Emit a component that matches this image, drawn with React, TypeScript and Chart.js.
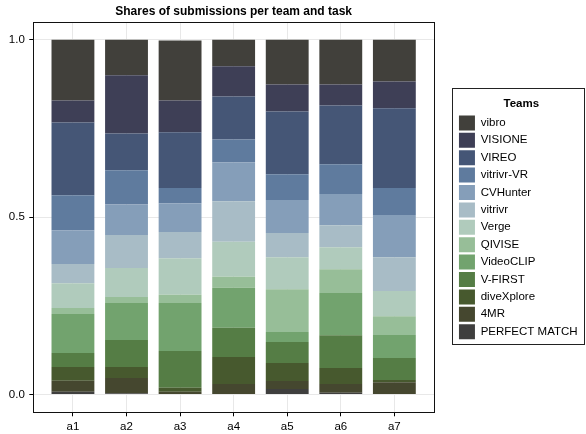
import React, { useEffect, useRef } from 'react';
import { Chart, registerables } from 'chart.js';

Chart.register(...registerables);

// Tasks on the x axis
const tasks = ['a1', 'a2', 'a3', 'a4', 'a5', 'a6', 'a7'];

// Y tick values
const yTicks = [0, 0.5, 1.0];

// Team shares per task (stacked bottom -> top)
const perfectMatch = [0.008, 0.004, 0.0, 0.0, 0.016, 0.005, 0.0];
const fourMR = [0.031, 0.043, 0.008, 0.030, 0.022, 0.025, 0.035];
const diveXplore = [0.039, 0.031, 0.011, 0.076, 0.051, 0.045, 0.006];
const vFirst = [0.039, 0.076, 0.104, 0.082, 0.059, 0.092, 0.062];
const videoCLIP = [0.110, 0.104, 0.135, 0.113, 0.028, 0.119, 0.065];
const qivise = [0.017, 0.017, 0.023, 0.031, 0.121, 0.067, 0.053];
const verge = [0.070, 0.082, 0.103, 0.099, 0.090, 0.062, 0.071];
const vitrivr = [0.054, 0.093, 0.074, 0.114, 0.068, 0.062, 0.095];
const cvHunter = [0.095, 0.086, 0.081, 0.110, 0.093, 0.088, 0.119];
const vitrivrVR = [0.099, 0.096, 0.043, 0.064, 0.073, 0.084, 0.076];
const vireo = [0.205, 0.104, 0.157, 0.121, 0.177, 0.166, 0.225];
const visione = [0.062, 0.164, 0.090, 0.085, 0.076, 0.059, 0.075];
const vibro = [0.171, 0.100, 0.169, 0.075, 0.126, 0.126, 0.118];

const teamNames = [
  'PERFECT MATCH', '4MR', 'diveXplore', 'V-FIRST', 'VideoCLIP', 'QIVISE',
  'Verge', 'vitrivr', 'CVHunter', 'vitrivr-VR', 'VIREO', 'VISIONE', 'vibro',
];
const teamValues = [
  perfectMatch, fourMR, diveXplore, vFirst, videoCLIP, qivise,
  verge, vitrivr, cvHunter, vitrivrVR, vireo, visione, vibro,
];
const teamColors = [
  '#3f3f3e', '#45472f', '#47592e', '#557d45', '#72a36e', '#97be98',
  '#b0cbbc', '#a8bcc6', '#859eb9', '#5f7b9e', '#455676', '#3e3f56', '#41403b',
];

const FONT = "'Liberation Sans', Arial, Helvetica, sans-serif";
const LEGEND_SPACE = 152; // horizontal room reserved right of the plot
const LEGEND_SHIFT = 1.6; // extra inset of legend items

const legendSpacePlugin = {
  id: 'legendSpace',
  beforeLayout(chart: any) {
    const lg = chart.legend;
    if (lg && !lg.__patched) {
      const origFit = lg.fit.bind(lg);
      lg.fit = function () {
        origFit();
        this.__gap = Math.max(0, LEGEND_SPACE - this.width);
        this.width = this.width + this.__gap;
      };
      lg.__patched = true;
    }
  },
  afterLayout(chart: any) {
    const lg = chart.legend;
    if (lg && lg.__gap !== undefined) {
      const s = lg.__gap + LEGEND_SHIFT;
      lg.left += s;
      lg.width -= s;
    }
  },
};

const framePlugin = {
  id: 'frames',
  afterDraw(chart: any) {
    const { ctx, chartArea: a } = chart;
    ctx.save();
    ctx.strokeStyle = '#111';
    ctx.lineWidth = 1;
    const l = Math.floor(a.left) + 0.5;
    const r = Math.floor(a.right) + 0.5;
    const t = Math.floor(a.top) + 0.5;
    const b = Math.floor(a.bottom) + 0.5;
    ctx.strokeRect(l, t, r - l, b - t);

    const lg = chart.legend;
    if (lg && lg.legendHitBoxes && lg.legendHitBoxes.length) {
      const hb = lg.legendHitBoxes;
      let maxRight = 0;
      hb.forEach((h: any) => { maxRight = Math.max(maxRight, h.left + h.width); });
      const first = hb[0];
      const last = hb[hb.length - 1];
      const fl = Math.floor(first.left - 6.5) + 0.5;
      const fr = Math.min(Math.floor(maxRight + 8), chart.width - 2) + 0.5;
      const ft = Math.floor(first.top - 26.5) + 0.5;
      const fb = Math.floor(last.top + last.height + 5) + 0.5;
      ctx.strokeStyle = '#222';
      ctx.strokeRect(fl, ft, fr - fl, fb - ft);
    }
    ctx.restore();
  },
};

export default function App() {
  const canvasRef = useRef<HTMLCanvasElement | null>(null);

  useEffect(() => {
    const canvas = canvasRef.current;
    if (!canvas) return;
    Chart.defaults.font.family = FONT;
    Chart.defaults.color = '#000';

    const datasets = teamNames.map((name, k) => ({
      label: name,
      data: teamValues[k].map((v, i) => ({ x: i + 1, y: v })),
      backgroundColor: teamColors[k],
      borderWidth: 0,
      barPercentage: 0.8,
      categoryPercentage: 1.0,
    }));

    const chart = new Chart(canvas, {
      type: 'bar',
      data: { datasets },
      plugins: [legendSpacePlugin, framePlugin],
      options: {
        responsive: false,
        animation: false,
        devicePixelRatio: 1,
        layout: { padding: { left: 0, right: 0, top: 0, bottom: 0 } },
        scales: {
          x: {
            type: 'linear',
            stacked: true,
            offset: false,
            min: 0.26,
            max: 7.74,
            afterBuildTicks: (scale: any) => {
              scale.ticks = tasks.map((_, i) => ({ value: i + 1 }));
            },
            afterFit: (scale: any) => { scale.height = 21.7; },
            grid: {
              offset: false,
              color: '#e8e8e8',
              tickColor: '#000',
              tickLength: 4,
              drawOnChartArea: true,
            },
            border: { display: false },
            ticks: {
              font: { size: 11.5 },
              color: '#000',
              padding: 4,
              maxRotation: 0,
              autoSkip: false,
              callback: (v: any) => tasks[Math.round(Number(v)) - 1] ?? '',
            },
          },
          y: {
            type: 'linear',
            stacked: true,
            min: -0.05,
            max: 1.05,
            afterBuildTicks: (scale: any) => {
              scale.ticks = yTicks.map((v) => ({ value: v }));
            },
            afterFit: (scale: any) => { scale.width = 33.3; },
            grid: {
              color: '#e8e8e8',
              tickColor: '#000',
              tickLength: 4,
            },
            border: { display: false },
            ticks: {
              font: { size: 11.5 },
              color: '#000',
              padding: 4.5,
              callback: (v: any) => Number(v).toFixed(1),
            },
          },
        },
        plugins: {
          title: {
            display: true,
            text: 'Shares of submissions per team and task',
            fullSize: false,
            color: '#000',
            font: { size: 12, weight: 'bold' },
            padding: { top: 4.8, bottom: 2.8 },
          },
          legend: {
            display: true,
            position: 'right',
            reverse: true,
            title: {
              display: true,
              text: 'Teams',
              color: '#000',
              font: { size: 11.5, weight: 'bold' },
              padding: { top: 5.2, bottom: 1.6 },
            },
            labels: {
              boxWidth: 16,
              boxHeight: 15,
              padding: 2.4,
              color: '#000',
              font: { size: 11.5 },
            },
          },
          tooltip: { enabled: false },
        },
      } as any,
    });

    return () => chart.destroy();
  }, []);

  return (
    <div style={{ position: 'fixed', left: 0, top: 0, width: 586, height: 434, background: '#fff' }}>
      <canvas ref={canvasRef} width={586} height={434} style={{ display: 'block' }} />
    </div>
  );
}
